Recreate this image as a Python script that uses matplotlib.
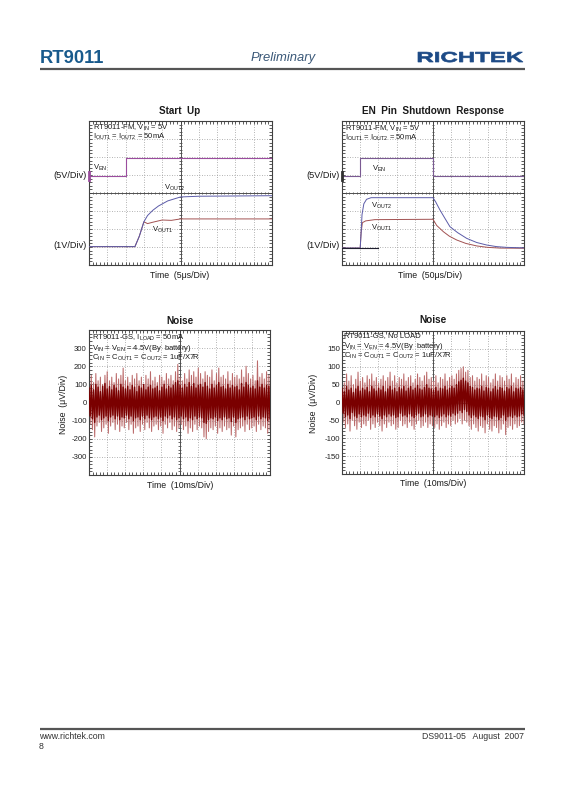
import numpy as np
import matplotlib
matplotlib.use("Agg")
import matplotlib.pyplot as plt
from matplotlib.ticker import MultipleLocator
from matplotlib.textpath import TextPath
from matplotlib.patches import PathPatch
from matplotlib.font_manager import FontProperties
from matplotlib.transforms import Affine2D

plt.rcParams["font.family"] = ["Liberation Sans", "DejaVu Sans"]
plt.rcParams["mathtext.default"] = "regular"
plt.rcParams["axes.unicode_minus"] = False

W, H = 565, 800

# ── Scope traces (x in divisions 0..10, y in divisions 0..8) ─────────────

# Start Up
SU_VEN_X = [0, 2.0, 2.0, 10]
SU_VEN_Y = [4.95, 4.95, 5.95, 5.95]
SU_VOUT2_X = [0, 2.51, 2.75, 3.0, 3.2, 3.5, 3.8, 4.3, 5.0, 6.0, 10]
SU_VOUT2_Y = [1.02, 1.02, 1.6, 2.4, 2.75, 3.05, 3.28, 3.56, 3.78, 3.82, 3.85]
SU_VOUT1_X = [0, 2.51, 2.75, 3.0, 3.2, 3.5, 4.0, 4.5, 5.0, 10]
SU_VOUT1_Y = [1.02, 1.02, 1.6, 2.4, 2.3, 2.38, 2.5, 2.48, 2.56, 2.56]

# EN Pin Shutdown Response
EN_VEN_X = [0, 1.0, 1.0, 5.0, 5.0, 10]
EN_VEN_Y = [4.95, 4.95, 5.95, 5.95, 4.95, 4.95]
EN_VOUT2_X = [0, 1.0, 1.05, 1.1, 1.2, 1.35, 1.6, 5.0, 5.15, 5.38, 5.65,
              5.93, 6.35, 6.85, 7.4, 7.95, 8.5, 9.05, 10]
EN_VOUT2_Y = [0.94, 0.94, 1.8, 2.8, 3.4, 3.65, 3.74, 3.74, 3.5, 3.06, 2.6,
              2.13, 1.8, 1.48, 1.25, 1.11, 1.02, 0.98, 0.95]
EN_VOUT1_X = [0, 1.0, 1.05, 1.12, 1.3, 1.8, 5.0, 5.2, 5.57, 5.9, 6.3,
              6.8, 7.4, 8.0, 8.68, 10]
EN_VOUT1_Y = [0.94, 0.94, 1.8, 2.35, 2.45, 2.52, 2.54, 2.2, 1.85, 1.6, 1.39,
              1.2, 1.06, 0.98, 0.94, 0.93]

# ── Noise envelopes (uV), one value per 1/8 division ─────────────────────

NOISE1_HI = [130, 150, 110, 160, 120, 140, 100, 150, 170, 120,
             140, 110, 160, 130, 150, 190, 120, 140, 110, 150,
             130, 160, 120, 140, 100, 150, 130, 170, 120, 140,
             110, 150, 140, 120, 160, 130, 150, 120, 170, 210,
             140, 120, 160, 130, 180, 150, 170, 140, 190, 160,
             130, 170, 150, 140, 180, 120, 160, 190, 140, 150,
             130, 170, 120, 160, 140, 150, 130, 180, 140, 200,
             160, 130, 150, 120, 230, 140, 160, 130, 170, 150]
NOISE1_LO = [-120, -150, -190, -130, -110, -160, -140, -120, -170, -130,
             -110, -150, -120, -160, -130, -140, -110, -150, -120, -170,
             -140, -130, -160, -120, -150, -110, -140, -160, -130, -120,
             -150, -130, -170, -120, -140, -110, -150, -130, -160, -140,
             -120, -150, -130, -170, -140, -160, -120, -150, -130, -140,
             -190, -200, -160, -140, -150, -130, -170, -140, -160, -130,
             -150, -140, -180, -130, -190, -150, -140, -130, -160, -120,
             -150, -140, -130, -160, -120, -150, -130, -140, -170, -150]
CORE1_HI = [80, 95, 70, 100, 85, 60, 90, 105, 75, 88,
            70, 95, 80, 65, 100, 85, 75, 90, 70, 95,
            85, 60, 90, 80, 100, 70, 85, 95, 75, 80,
            90, 65, 85, 100, 75, 90, 80, 95, 110, 120,
            95, 80, 100, 85, 110, 90, 105, 80, 95, 100,
            85, 110, 90, 75, 100, 80, 95, 110, 85, 90,
            75, 100, 80, 95, 85, 90, 70, 105, 85, 110,
            95, 80, 90, 75, 120, 85, 100, 80, 95, 90]
CORE1_LO = [-75, -90, -110, -80, -70, -95, -85, -75, -100, -80,
            -70, -90, -75, -95, -80, -85, -70, -90, -75, -100,
            -85, -80, -95, -75, -90, -70, -85, -95, -80, -75,
            -90, -80, -100, -75, -85, -70, -90, -80, -95, -85,
            -75, -90, -80, -100, -85, -95, -75, -90, -80, -85,
            -110, -115, -95, -85, -90, -80, -100, -85, -95, -80,
            -90, -85, -105, -80, -110, -90, -85, -80, -95, -75,
            -90, -85, -80, -95, -75, -90, -80, -85, -100, -90]

NOISE2_HI = [70, 55, 80, 60, 75, 50, 65, 85, 60, 70,
             55, 75, 65, 80, 60, 70, 55, 65, 75, 60,
             70, 85, 60, 75, 55, 70, 65, 80, 60, 70,
             75, 55, 65, 80, 70, 60, 75, 85, 65, 70,
             60, 75, 55, 70, 65, 80, 60, 70, 75, 65,
             80, 90, 95, 100, 85, 90, 70, 75, 60, 70,
             65, 80, 60, 75, 70, 55, 65, 80, 60, 75,
             70, 60, 75, 65, 80, 55, 70, 65, 75, 60]
NOISE2_LO = [-55, -70, -60, -80, -50, -65, -75, -55, -70, -60,
             -65, -50, -75, -60, -70, -55, -65, -80, -60, -70,
             -55, -65, -60, -75, -70, -50, -65, -60, -70, -55,
             -65, -75, -60, -50, -70, -65, -55, -70, -60, -65,
             -70, -60, -75, -65, -55, -70, -60, -65, -50, -60,
             -55, -45, -60, -50, -55, -65, -75, -60, -70, -80,
             -65, -70, -85, -60, -75, -80, -65, -70, -85, -75,
             -60, -90, -70, -65, -75, -60, -70, -65, -55, -60]
CORE2_HI = [40, 30, 45, 35, 40, 28, 38, 45, 32, 40,
            35, 42, 30, 45, 38, 32, 40, 35, 45, 30,
            38, 45, 35, 40, 30, 42, 38, 45, 32, 40,
            45, 35, 40, 48, 38, 35, 42, 50, 40, 38,
            35, 42, 32, 40, 38, 45, 35, 40, 45, 40,
            50, 58, 62, 68, 60, 55, 45, 42, 35, 40,
            38, 45, 32, 42, 40, 30, 38, 45, 35, 42,
            40, 32, 42, 38, 45, 30, 40, 38, 42, 35]
CORE2_LO = [-30, -40, -35, -45, -28, -38, -42, -32, -40, -35,
            -38, -30, -42, -35, -40, -32, -38, -45, -35, -40,
            -32, -38, -35, -42, -40, -30, -38, -35, -40, -32,
            -38, -42, -35, -30, -40, -38, -32, -40, -35, -38,
            -40, -35, -42, -38, -32, -40, -35, -38, -30, -35,
            -30, -22, -28, -20, -25, -35, -42, -35, -40, -45,
            -38, -40, -48, -35, -42, -45, -38, -40, -48, -42,
            -35, -50, -40, -38, -42, -35, -40, -38, -32, -35]

NOISE1_TICKS = [-300, -200, -100, 0, 100, 200, 300]
NOISE2_TICKS = [-150, -100, -50, 0, 50, 100, 150]

# ── Styling ──────────────────────────────────────────────────────────────

GRID = "#9a9a9a"
CENTER = "#505050"
EDGE = "#404040"
C_VEN = "#9b4d9e"
C_VOUT2 = "#5b5ba8"
C_VOUT1 = "#a25252"
C_NOISE_LIGHT = "#bb6a6a"
C_NOISE_DARK = "#7a0000"
TXT = 5.5


def box(l, t, r, b):
    """Pixel box (left, top, right, bottom) -> figure fraction rect."""
    return [l / W, 1 - b / H, (r - l) / W, (b - t) / H]


def scope_frame(ax, ymin, ymax, ystep):
    """10 x 8 division scope graticule."""
    ax.set_xlim(0, 10)
    ax.set_ylim(ymin, ymax)
    yc = (ymin + ymax) / 2
    for x in range(1, 10):
        if x != 5:
            ax.axvline(x, color=GRID, lw=0.6, ls=(0, (1, 2)), zorder=1)
    for y in np.arange(ymin + ystep, ymax - ystep / 2, ystep):
        if abs(y - yc) > 1e-9:
            ax.axhline(y, color=GRID, lw=0.6, ls=(0, (1, 2)), zorder=1)
    ax.axvline(5, color=CENTER, lw=0.7, zorder=1)
    ax.axhline(yc, color=CENTER, lw=0.7, zorder=1)
    ax.vlines(np.arange(0, 10.01, 0.2), yc - ystep * 0.07, yc + ystep * 0.07,
              color=CENTER, lw=0.6, zorder=1)
    ax.hlines(np.arange(ymin, ymax + 1e-9, ystep / 5), 5 - 0.07, 5 + 0.07,
              color=CENTER, lw=0.6, zorder=1)
    ax.xaxis.set_major_locator(MultipleLocator(1))
    ax.xaxis.set_minor_locator(MultipleLocator(0.2))
    ax.yaxis.set_major_locator(MultipleLocator(ystep))
    ax.yaxis.set_minor_locator(MultipleLocator(ystep / 5))
    ax.tick_params(which="both", direction="in", top=True, right=True,
                   length=2, width=0.6, color=EDGE,
                   labelbottom=False, labelleft=False)
    for sp in ax.spines.values():
        sp.set_color(EDGE)
        sp.set_linewidth(0.8)


def zigzag(hi, lo):
    n = len(hi)
    x = np.linspace(0, 10, 2 * n)
    y = np.empty(2 * n)
    y[0::2] = hi
    y[1::2] = lo
    return x, y


def noise_panel(ax, hi, lo, core_hi, core_lo, lim, ticks):
    scope_frame(ax, -lim, lim, lim / 4)
    ax.set_yticks(ticks)
    ax.tick_params(axis="y", which="major", labelleft=True, labelsize=5.6,
                   pad=1.5, labelcolor="#222222")
    x, y = zigzag(hi, lo)
    ax.plot(x, y, color=C_NOISE_LIGHT, lw=0.75, zorder=2)
    x, y = zigzag(core_hi, core_lo)
    ax.plot(x, y, color=C_NOISE_DARK, lw=1.0, zorder=3)


fig = plt.figure(figsize=(W / 100, H / 100), dpi=100)
fig.patch.set_facecolor("white")

# Start Up
ax1 = fig.add_axes(box(89, 121, 272, 265))
scope_frame(ax1, 0, 8, 1)
ax1.plot(SU_VEN_X, SU_VEN_Y, color=C_VEN, lw=0.8, zorder=3)
ax1.plot(SU_VOUT1_X, SU_VOUT1_Y, color=C_VOUT1, lw=0.7, zorder=3)
ax1.plot(SU_VOUT2_X, SU_VOUT2_Y, color=C_VOUT2, lw=0.7, zorder=3)
ax1.plot([0, 0], [4.75, 5.15], color=C_VEN, lw=2, zorder=4, clip_on=False)

# EN Pin Shutdown Response
ax2 = fig.add_axes(box(342, 121, 524, 265))
scope_frame(ax2, 0, 8, 1)
ax2.plot(EN_VEN_X, EN_VEN_Y, color="#7a5a92", lw=0.8, zorder=3)
ax2.plot(EN_VOUT1_X, EN_VOUT1_Y, color=C_VOUT1, lw=0.7, zorder=3)
ax2.plot(EN_VOUT2_X, EN_VOUT2_Y, color=C_VOUT2, lw=0.7, zorder=3)
ax2.plot([0, 2.0], [0.94, 0.94], color="#202030", lw=0.8, zorder=4)
ax2.plot([0, 0], [4.75, 5.15], color="#303030", lw=2, zorder=4, clip_on=False)

# Noise panels
ax3 = fig.add_axes(box(89, 330, 270, 475))
noise_panel(ax3, NOISE1_HI, NOISE1_LO, CORE1_HI, CORE1_LO, 400, NOISE1_TICKS)
ax4 = fig.add_axes(box(342, 331, 524, 474))
noise_panel(ax4, NOISE2_HI, NOISE2_LO, CORE2_HI, CORE2_LO, 200, NOISE2_TICKS)

# ── Page overlay in pixel coordinates ────────────────────────────────────

ov = fig.add_axes([0, 0, 1, 1])
ov.set_xlim(0, W)
ov.set_ylim(H, 0)
ov.axis("off")


def put(x, y, s, size, ha="left", va="center", **kw):
    ov.text(x, y, s, fontsize=size, ha=ha, va=va, color=kw.pop("color", "#1a1a1a"), **kw)


# header
put(40, 63, "RT9011", 13.2, va="baseline", weight="bold", color="#185a8c")
put(283, 61, "Preliminary", 9.4, ha="center", va="baseline", style="italic", color="#3a5878")
fp = FontProperties(family="Liberation Sans", weight="bold")
tp = TextPath((0, 0), "RICHTEK", size=14.4, prop=fp)
ext = tp.get_extents()
sx = 105 / ext.width
tp = tp.transformed(Affine2D().translate(-ext.x0, 0).scale(sx, -1).translate(418, 62))
ov.add_patch(PathPatch(tp, facecolor="#1c4a86", edgecolor="#1c4a86", lw=0.5))
ov.plot([40, 525], [69, 69], color="#555555", lw=1.6, solid_capstyle="butt")

# footer
ov.plot([40, 525], [729, 729], color="#555555", lw=1.6, solid_capstyle="butt")
put(39, 739, "www.richtek.com", 6.3, va="baseline", color="#333333")
put(39, 749, "8", 6.3, va="baseline", color="#333333")
put(524, 739, "DS9011-05   August  2007", 6.3, ha="right", va="baseline", color="#333333")

# Start Up texts
put(180, 111, "Start  Up", 7.1, ha="center", weight="bold")
put(93, 128, "RT9011-FM, V$_{IN}$ = 5V", TXT)
put(93, 137, "I$_{OUT1}$ = I$_{OUT2}$ = 50mA", TXT)
put(93, 168, "V$_{EN}$", TXT)
put(164, 188, "V$_{OUT2}$", TXT)
put(152, 230, "V$_{OUT1}$", TXT)
put(87, 176, "(5V/Div)", 6.6, ha="right")
put(87, 246, "(1V/Div)", 6.6, ha="right")
put(180, 276, "Time  (5\u03bcs/Div)", 6.3, ha="center")

# EN texts
put(433, 111, "EN  Pin  Shutdown  Response", 7.2, ha="center", weight="bold")
put(345, 129, "RT9011-FM, V$_{IN}$ = 5V", TXT)
put(345, 138, "I$_{OUT1}$ = I$_{OUT2}$ = 50mA", TXT)
put(372, 169, "V$_{EN}$", TXT)
put(371, 206, "V$_{OUT2}$", TXT)
put(371, 228, "V$_{OUT1}$", TXT)
put(340, 176, "(5V/Div)", 6.6, ha="right")
put(340, 246, "(1V/Div)", 6.6, ha="right")
put(430, 276, "Time  (50\u03bcs/Div)", 6.3, ha="center")

# Noise 1 texts
put(180, 321, "Noise", 7.2, ha="center", weight="bold")
put(92, 338, "RT9011-GS, I$_{LOAD}$ = 50mA", TXT)
put(92, 348, "V$_{IN}$ = V$_{EN}$ = 4.5V(By  battery)", TXT)
put(92, 358, "C$_{IN}$ = C$_{OUT1}$ = C$_{OUT2}$ = 1uF/X7R", TXT)
put(63, 404, "Noise  (\u03bcV/Div)", 6.3, ha="center", rotation=90)
put(180, 485, "Time  (10ms/Div)", 6.3, ha="center")

# Noise 2 texts
put(433, 320, "Noise", 7.2, ha="center", weight="bold")
put(344, 336, "RT9011-GS, No LOAD", TXT)
put(344, 346, "V$_{IN}$ = V$_{EN}$ = 4.5V(By  battery)", TXT)
put(344, 356, "C$_{IN}$ = C$_{OUT1}$ = C$_{OUT2}$ = 1uF/X7R", TXT)
put(313, 403, "Noise  (\u03bcV/Div)", 6.3, ha="center", rotation=90)
put(433, 484, "Time  (10ms/Div)", 6.3, ha="center")

fig.savefig("out.png", dpi=100, facecolor="white")
